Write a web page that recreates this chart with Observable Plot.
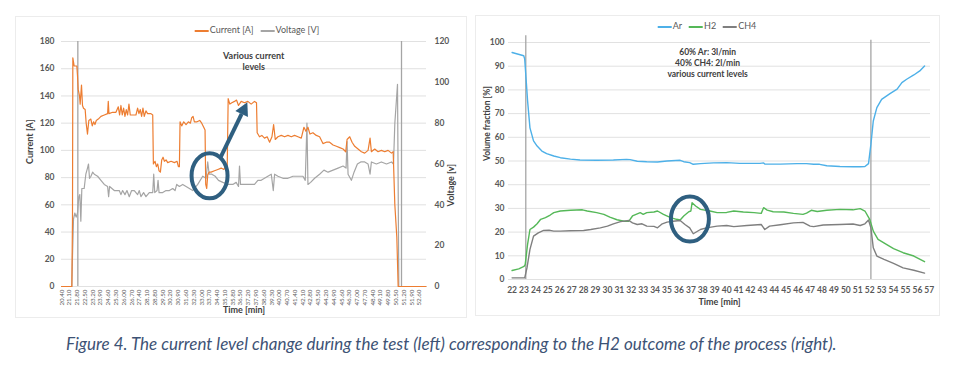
<!DOCTYPE html>
<html>
<head>
<meta charset="utf-8">
<script src="https://cdn.jsdelivr.net/npm/d3@7"></script>
<script src="https://cdn.jsdelivr.net/npm/@observablehq/plot@0.6"></script>
<style>
  html, body { margin: 0; padding: 0; background: #fff; }
  #wrap { position: relative; width: 966px; height: 372px; overflow: hidden; font-family: Lato, "Open Sans", sans-serif; }
  .panel { position: absolute; border: 1px solid #ececec; box-sizing: border-box; }
  .legend { position: absolute; font-size: 9px; color: #595959; white-space: nowrap; transform: translateX(-50%); }
  .legend span.sw { display: inline-block; width: 14px; height: 0; border-top: 2px solid; vertical-align: middle; margin-right: 1px; }
  .legend span.it { margin-right: 7px; }
  #caption { position: absolute; left: 66px; top: 333px; font-size: 17px; font-style: italic; color: #3d5275; white-space: nowrap; }
</style>
</head>
<body>
<div id="wrap">
  <div id="left" class="panel" style="left:15px;top:16px;width:452px;height:302px;"></div>
  <div id="right" class="panel" style="left:475px;top:15px;width:465px;height:301px;"></div>
  <div class="legend" style="left:257px;top:24px;"><span class="sw" style="border-color:#ED7D31"></span><span class="it">Current [A]</span><span class="sw" style="border-color:#A5A5A5"></span><span>Voltage [V]</span></div>
  <div class="legend" style="left:707px;top:20px;"><span class="sw" style="border-color:#4DB0E8"></span><span class="it">Ar</span><span class="sw" style="border-color:#55B858"></span><span class="it">H2</span><span class="sw" style="border-color:#7F7F7F"></span><span>CH4</span></div>
  <div id="caption">Figure 4. The current level change during the test (left) corresponding to the H2 outcome of the process (right).</div>
</div>
<script>
// ---------- LEFT CHART DATA ----------
const timeTickLabels = ["20.40","21.10","21.80","22.50","23.20","23.90","24.60","25.30","26.00","26.70","27.40","28.10","28.80","29.50","30.20","30.90","31.60","32.30","33.00","33.70","34.40","35.10","35.80","36.50","37.20","37.90","38.60","39.30","40.00","40.70","41.40","42.10","42.80","43.50","44.20","44.90","45.60","46.30","47.00","47.70","48.40","49.10","49.80","50.50","51.20","51.90","52.60"];
const currentTicks = [0, 20, 40, 60, 80, 100, 120, 140, 160, 180];
const voltageTicks = [0, 20, 40, 60, 80, 100, 120];

const currentTime = [20.4,21.33,21.39,21.42,21.54,21.78,21.84,21.9,22.02,22.08,22.2,22.29,22.38,22.53,22.62,22.74,22.86,23.04,23.17,23.29,23.41,23.53,23.71,23.95,24.25,24.55,24.61,24.67,25.0,25.3,25.51,25.63,25.75,25.87,25.99,26.11,26.23,26.35,26.47,26.59,26.8,27.1,27.25,27.37,27.49,27.61,27.73,27.85,28.0,28.15,28.45,28.61,28.67,28.82,28.94,29.06,29.18,29.3,29.42,29.54,29.66,29.81,29.96,30.26,30.56,30.8,30.92,31.01,31.07,31.22,31.4,31.61,31.82,32.0,32.12,32.24,32.36,32.6,32.84,33.02,33.2,33.32,33.38,33.47,33.56,33.68,33.86,34.17,34.47,34.77,35.01,35.13,35.31,35.4,35.55,35.73,35.97,36.15,36.33,36.57,36.87,37.17,37.47,37.77,37.95,38.01,38.22,38.43,38.67,38.91,39.13,39.34,39.49,39.64,39.88,40.18,40.48,40.78,41.08,41.38,41.68,41.98,42.22,42.4,42.58,42.76,43.03,43.33,43.63,43.93,44.23,44.53,44.84,45.14,45.44,45.74,45.98,46.1,46.34,46.55,46.79,47.09,47.39,47.69,47.99,48.17,48.29,48.59,48.89,49.19,49.49,49.79,50.1,50.25,50.4,50.58,50.7,53.2];
const currentA    = [0,0,50,168,162,162,155,145,140,134,148,133,131,130,120,112,122,123,118,121,119,122,123,125,126,127,136,127,128,128,132,126,133,126,131,125,130,126,134,126,126,126,131,127,130,125,131,125,129,127,127,126,90,92,88,90,85,84,93,95,92,93,91,92,91,92,88,88,121,118,121,119,121,120,124,125,121,121,122,120,117,115,75,72,82,84,84,85,86,87,86,88,85,138,134,135,136,137,133,136,135,136,134,136,135,113,110,111,109,110,106,110,119,108,110,111,110,111,110,111,110,109,117,114,117,112,113,111,110,105,106,106,104,103,102,101,99,108,110,106,103,101,99,98,100,109,99,101,99,100,99,100,98,99,60,36,0,0];

const voltageTime = [20.4,21.33,21.39,21.48,21.6,21.72,21.84,21.96,22.05,22.14,22.23,22.44,22.59,22.74,22.83,22.92,23.05,23.2,23.35,23.65,23.95,24.25,24.55,24.64,24.73,25.15,25.6,25.75,25.9,26.11,26.29,26.5,26.71,26.95,27.25,27.4,27.55,27.79,28.0,28.3,28.61,28.7,28.79,29.0,29.09,29.18,29.51,29.81,30.11,30.41,30.62,30.77,31.01,31.31,31.61,31.91,32.21,32.66,33.11,33.41,33.56,33.69,33.93,34.23,34.53,34.92,35.37,35.82,36.12,36.33,36.42,36.51,36.87,37.32,37.77,38.07,38.37,38.67,38.97,39.28,39.46,39.58,39.88,40.33,40.78,41.23,41.68,42.13,42.34,42.49,42.58,42.82,43.18,43.63,44.02,44.39,44.84,45.29,45.74,46.01,46.1,46.19,46.49,46.73,47.03,47.33,47.69,47.99,48.17,48.29,48.74,49.19,49.65,50.1,50.28,50.4,50.64,50.76,53.2];
const voltageV    = [0,0,15,33,36,34,36,44,45,32,48,48,55,58,60,53,54,56,55,54,52,50,49,44,49,47,47,45,47,45,47,44,47,47,45,47,44,46,44,46,46,55,46,47,52,46,46,47,47,48,47,50,49,50,49,48,47,50,54,53,61,55,55,54,52,51,50,50,51,49,59,50,50,50,50,52,52,53,54,55,47,55,54,53,53,54,54,54,52,80,50,51,53,55,57,56,57,58,59,58,71,55,52,56,60,61,61,60,55,61,60,61,60,61,60,80,99,0,0];

const leftMarkerTimes = [21.87, 51.0];
const leftNote = "Various current\nlevels";

// ---------- RIGHT CHART DATA ----------
const minuteTicks = [22,23,24,25,26,27,28,29,30,31,32,33,34,35,36,37,38,39,40,41,42,43,44,45,46,47,48,49,50,51,52,53,54,55,56,57];
const fractionTicks = [0,10,20,30,40,50,60,70,80,90,100];

const arTime = [22,22.98,23.06,23.17,23.3,23.5,23.8,24.1,24.5,24.9,25.5,26.05,26.9,27.7,29.1,30.5,31.6,31.9,32.5,33.3,34.2,35,36.1,36.4,36.9,37.2,37.8,38.9,40,41.1,42.8,43.1,43.2,44.5,45.9,46.7,47.3,47.8,48.4,49.5,50.6,51.2,51.6,51.9,52.1,52.3,52.6,53.0,53.7,54.3,54.7,55.1,55.7,56.2,56.6];
const arPct  = [95.8,94.4,93,85,75.4,64,58.5,56.3,54.2,53.1,52.1,51.4,50.8,50.4,50.3,50.4,50.7,50.6,49.9,49.7,49.6,50,50.3,49.7,49.3,48.6,48.9,49.2,49.3,49,49,49.2,48.7,48.7,48.9,48.9,48.6,48.6,48,47.7,47.6,47.6,47.7,48.9,57,66.9,72.5,76,78.4,80.3,83.1,84.5,86.3,88,90.1];

const h2Time = [22,22.56,23.0,23.1,23.3,23.5,23.8,24.1,24.4,24.8,25.2,25.5,26.05,26.9,27.9,28.3,29.1,29.7,30.2,30.8,31.4,31.8,32.1,32.5,32.75,33.0,33.3,33.9,34.2,34.7,35.3,35.8,36.1,36.4,36.8,37.0,37.1,37.4,37.8,38.6,39.2,40.0,40.6,41.4,42.3,42.9,43.1,43.4,43.9,44.8,45.6,46.4,46.7,47.1,47.6,48.4,49.5,50.6,51.2,51.6,52.0,52.3,52.7,53.4,54,54.8,55.7,56.6];
const h2Pct  = [3.8,4.5,5.5,6.3,14.8,21.1,22.1,23.5,25.4,26.1,27.2,28.2,28.9,29.2,29.4,28.9,28.2,27.5,26.3,25.2,24.6,24.6,26.8,27.7,28.2,27.5,28.2,28.5,28.9,27.5,26.1,25.4,25.1,26.8,28.5,28.9,32.4,31,29.6,28.9,28.2,28.3,28.9,28.5,28.2,27.9,30.3,29.3,28.6,28.5,27.9,27.5,28,29.2,28.7,29.2,29.6,29.4,29.9,28.9,25.4,20.4,16.9,14.8,13,11.3,9.9,7.5];

const ch4Time = [22,22.8,23.06,23.25,23.5,23.8,24.2,24.65,25.1,25.5,26.05,26.9,28.0,28.6,29.4,30.0,30.5,31.1,31.8,32.1,32.5,32.9,33.3,33.9,34.2,34.6,35.0,35.5,36.1,36.5,36.9,37.2,37.8,38.3,39.2,40.0,40.6,41.7,42.9,43.2,43.6,44.5,45.6,46.4,47.0,47.3,48.1,49.5,50.6,51.2,51.6,51.9,52.1,52.3,52.6,53.2,54,54.8,55.7,56.6];
const ch4Pct  = [0.7,0.7,0.7,4.9,12.7,18.3,19.7,20.7,20.8,20.4,20.4,20.6,20.7,21.1,21.8,22.5,23.5,24.4,24.9,23.9,23.2,23.5,22.5,22.4,21.8,23.5,24.2,24.6,24.9,23.2,21.8,19.3,21.1,21.8,22.5,22.8,22.3,22.8,23.2,21.1,22.5,23.1,23.9,24.1,22.5,22.3,23.0,23.2,23.4,22.8,23.5,25.1,21.8,13.4,9.9,8.5,6.8,4.9,3.9,2.7];

const rightMarkers = [{t: 23.15, top: 102.8}, {t: 52.1, top: 101}];
const rightNote = "60% Ar: 3l/min\n40% CH4: 2l/min\nvarious current levels";

// annotation (data coordinates)
const leftCircle = {t: 33.77, v: 81, rx: 18, ry: 22.5};
const leftArrow = {t1: 34.76, v1: 94.5, t2: 37.17, v2: 135};
const rightCircle = {t: 36.96, v: 25.3, rx: 19, ry: 22.5};

const VSCALE = 180 / 120; // voltage mapped onto current axis

const toRows = (ts, vs) => ts.map((t, i) => ({t, v: vs[i]}));
const fontStyle = {fontFamily: "Lato, 'Open Sans', sans-serif", fontSize: "8.5px", color: "#595959", background: "transparent", overflow: "visible"};
const circleColor = "#2F5F80";

// ---------- LEFT PLOT ----------
const left = Plot.plot({
  width: 450, height: 300,
  marginLeft: 45, marginRight: 40, marginTop: 24, marginBottom: 31,
  x: {domain: [20.4, 53.25]},
  y: {domain: [0, 180]},
  style: fontStyle,
  marks: [
    Plot.gridY(currentTicks, {stroke: "#d9d9d9", strokeOpacity: 0.8}),
    Plot.axisY(currentTicks, {tickSize: 0, tickPadding: 7, label: null, fontWeight: "bold", fill: "#595959"}),
    Plot.axisY(voltageTicks.map(d => d * VSCALE), {anchor: "right", tickSize: 0, tickPadding: 8, label: null, tickFormat: d => Math.round(d / VSCALE), fontWeight: "bold", fill: "#595959"}),
    Plot.axisX(timeTickLabels.map(Number), {tickSize: 0, tickPadding: 3, tickRotate: -90, label: null, tickFormat: (d, i) => timeTickLabels[i], fontSize: 6.3, fill: "#595959"}),
    Plot.ruleX(leftMarkerTimes, {y1: 0, y2: 180, stroke: "#A5A5A5", strokeWidth: 1.3}),
    Plot.line(toRows(voltageTime, voltageV), {x: "t", y: d => d.v * VSCALE, stroke: "#A5A5A5", strokeWidth: 1.2}),
    Plot.line(toRows(currentTime, currentA), {x: "t", y: "v", stroke: "#ED7D31", strokeWidth: 1.2}),
    Plot.text([leftNote], {x: 37.7, y: 166, text: d => d, fontWeight: "bold", fill: "#404040", fontSize: 9, lineHeight: 1.25}),
    Plot.text(["Current [A]"], {frameAnchor: "left", rotate: -90, dx: -31, fontWeight: "bold", fill: "#404040", fontSize: 9}),
    Plot.text(["Voltage [v]"], {frameAnchor: "right", rotate: -90, dx: 25, fontWeight: "bold", fill: "#404040", fontSize: 9}),
    Plot.text(["Time [min]"], {frameAnchor: "bottom", dy: 26, fontWeight: "bold", fill: "#404040", fontSize: 9})
  ]
});
document.getElementById("left").appendChild(left);

// ---------- RIGHT PLOT ----------
const right = Plot.plot({
  width: 463, height: 299,
  marginLeft: 32, marginRight: 9, marginTop: 26, marginBottom: 36,
  x: {domain: [21.7, 57.1]},
  y: {domain: [0, 100]},
  style: fontStyle,
  marks: [
    Plot.gridY(fractionTicks, {stroke: "#d9d9d9", strokeOpacity: 0.8}),
    Plot.axisY(fractionTicks, {tickSize: 0, tickPadding: 4, label: null, fill: "#595959", fontWeight: "bold"}),
    Plot.axisX(minuteTicks, {tickSize: 0, tickPadding: 7, label: null, fill: "#595959", fontWeight: "bold"}),
    Plot.ruleX(rightMarkers, {x: "t", y1: 0, y2: "top", stroke: "#A5A5A5", strokeWidth: 1.3}),
    Plot.line(toRows(arTime, arPct), {x: "t", y: "v", stroke: "#4DB0E8", strokeWidth: 1.4}),
    Plot.line(toRows(h2Time, h2Pct), {x: "t", y: "v", stroke: "#55B858", strokeWidth: 1.4}),
    Plot.line(toRows(ch4Time, ch4Pct), {x: "t", y: "v", stroke: "#7F7F7F", strokeWidth: 1.4}),
    Plot.text([rightNote], {x: 38.4, y: 91.5, text: d => d, fontWeight: "bold", fill: "#404040", fontSize: 8.5, lineHeight: 1.3}),
    Plot.text(["Volume fraction [%]"], {frameAnchor: "left", rotate: -90, dx: -21, fontWeight: "bold", fill: "#404040", fontSize: 8.5}),
    Plot.text(["Time [min]"], {frameAnchor: "bottom", dy: 25, fontWeight: "bold", fill: "#404040", fontSize: 9})
  ]
});
document.getElementById("right").appendChild(right);

// ---------- ANNOTATIONS (through the plots' own scales) ----------
function ellipse(plot, c) {
  const x = plot.scale("x"), y = plot.scale("y");
  d3.select(plot).append("ellipse")
    .attr("cx", x.apply(c.t)).attr("cy", y.apply(c.v))
    .attr("rx", c.rx).attr("ry", c.ry)
    .attr("fill", "none").attr("stroke", circleColor).attr("stroke-width", 4);
}
ellipse(left, leftCircle);
ellipse(right, rightCircle);
(function arrow() {
  const x = left.scale("x"), y = left.scale("y");
  const x1 = x.apply(leftArrow.t1), y1 = y.apply(leftArrow.v1);
  const x2 = x.apply(leftArrow.t2), y2 = y.apply(leftArrow.v2);
  const ang = Math.atan2(y2 - y1, x2 - x1);
  const L = 13, W = 7;
  const bx = x2 - L * Math.cos(ang), by = y2 - L * Math.sin(ang);
  const g = d3.select(left).append("g");
  g.append("line").attr("x1", x1).attr("y1", y1).attr("x2", bx).attr("y2", by)
    .attr("stroke", circleColor).attr("stroke-width", 4);
  g.append("polygon").attr("fill", circleColor).attr("points", [
    [x2, y2],
    [bx + W * Math.sin(ang), by - W * Math.cos(ang)],
    [bx - W * Math.sin(ang), by + W * Math.cos(ang)]
  ].map(p => p.join(",")).join(" "));
})();
</script>
</body>
</html>
